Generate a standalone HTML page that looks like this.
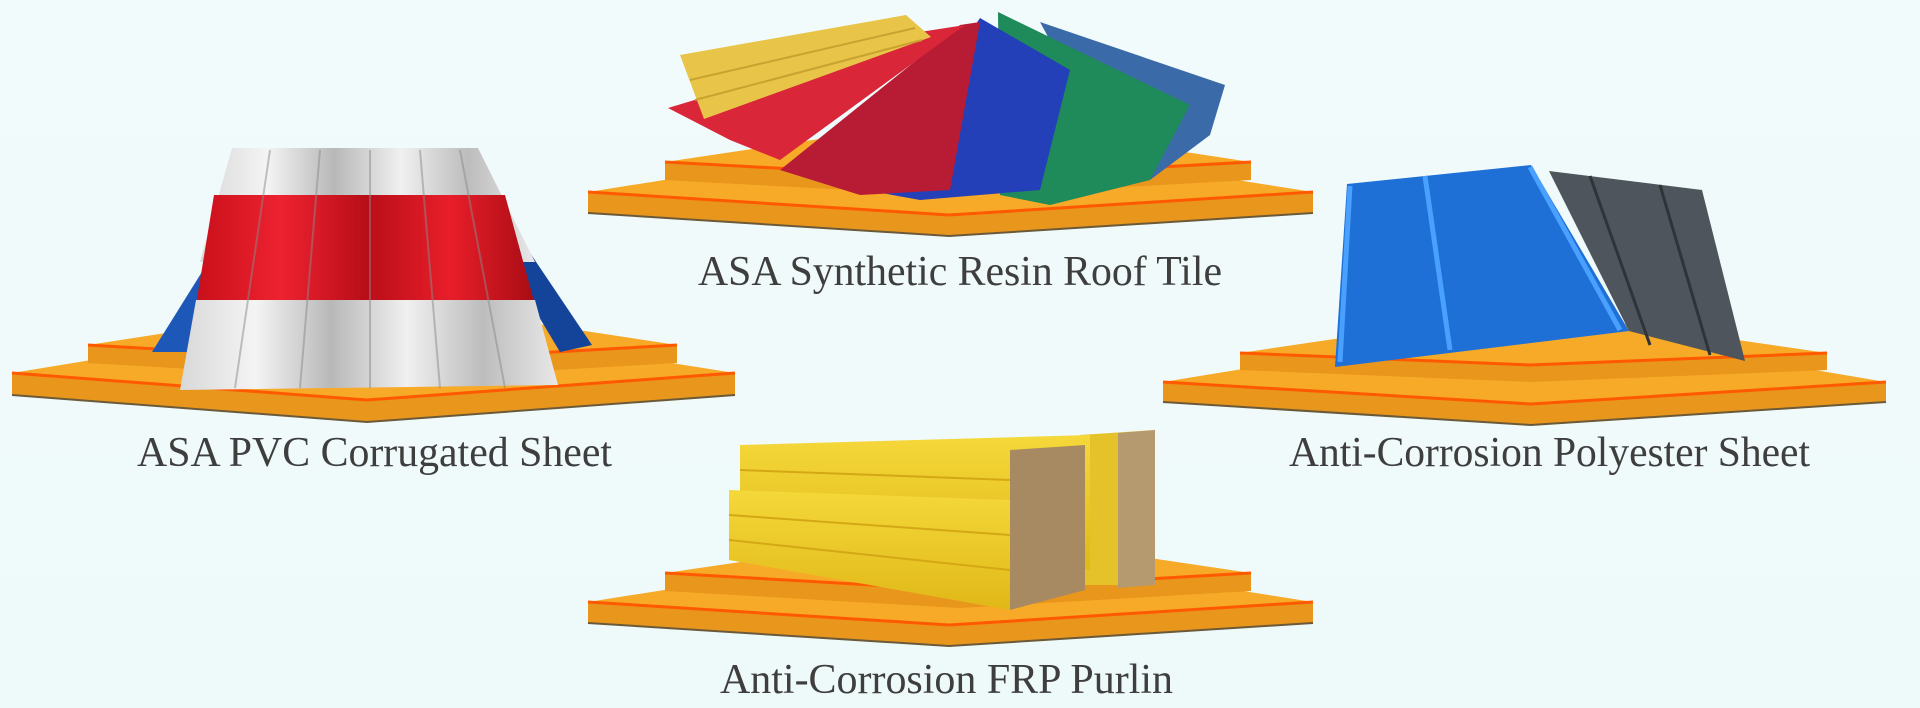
<!DOCTYPE html>
<html><head><meta charset="utf-8"><style>
html,body{margin:0;padding:0;background:#f0fafa;}
svg{display:block}
text{font-family:"Liberation Serif",serif;fill:#3e3e3e;font-size:42px}
</style></head><body>
<svg width="1920" height="708" viewBox="0 0 1920 708" xmlns="http://www.w3.org/2000/svg">
<defs>
<linearGradient id="bg" x1="0" y1="0" x2="0" y2="1"><stop offset="0" stop-color="#f2fbfb"/><stop offset="1" stop-color="#eef9f9"/></linearGradient>
<linearGradient id="wh" x1="0" y1="0" x2="1" y2="0"><stop offset="0" stop-color="#d8d8d8"/><stop offset=".2" stop-color="#f4f4f4"/><stop offset=".4" stop-color="#b8b8b8"/><stop offset=".6" stop-color="#f0f0f0"/><stop offset=".8" stop-color="#bdbdbd"/><stop offset="1" stop-color="#e8e8e8"/></linearGradient>
<linearGradient id="rd" x1="0" y1="0" x2="1" y2="0"><stop offset="0" stop-color="#c8101a"/><stop offset=".25" stop-color="#ee2230"/><stop offset=".5" stop-color="#b80e18"/><stop offset=".75" stop-color="#e81e2a"/><stop offset="1" stop-color="#a80c14"/></linearGradient>
<linearGradient id="yl" x1="0" y1="0" x2="0" y2="1"><stop offset="0" stop-color="#f5d83a"/><stop offset="1" stop-color="#e0b818"/></linearGradient>
</defs>
<rect width="1920" height="708" fill="url(#bg)"/>

<g>
<polygon points="12,373 367,315 735,373 367,400" fill="#f7a928"/>
<polygon points="12,373 367,400 735,373 735,395 367,422 12,395" fill="#e8961c"/>
<polyline points="12,373 367,400 735,373" fill="none" stroke="#ff5a00" stroke-width="3"/>
<polyline points="12,395 367,422 735,395" fill="none" stroke="#6b5a3a" stroke-width="2"/>
<polygon points="88,345 380,300 677,345 380,362" fill="#f7a928"/>
<polygon points="88,345 380,362 677,345 677,363 380,380 88,363" fill="#e8961c"/>
<polyline points="88,345 380,362 677,345" fill="none" stroke="#ff5a00" stroke-width="3"/>
</g>
<polygon points="225,235 258,238 190,352 152,352" fill="#1d58b8"/>
<polygon points="490,235 520,238 592,345 560,352" fill="#14449a"/>
<polygon points="232,148 478,148 535,262 200,262" fill="url(#wh)"/>
<polygon points="214,195 505,195 535,305 196,305" fill="url(#rd)"/>
<polygon points="196,300 535,300 558,385 180,390" fill="url(#wh)"/>
<g stroke="#8a8a8a" stroke-width="2" opacity=".5">
<line x1="270" y1="150" x2="235" y2="388"/><line x1="320" y1="150" x2="300" y2="388"/><line x1="370" y1="150" x2="370" y2="388"/><line x1="420" y1="150" x2="440" y2="388"/><line x1="460" y1="150" x2="505" y2="388"/>
</g>

<g>
<polygon points="588,192 949,135 1313,192 949,215" fill="#f7a928"/>
<polygon points="588,192 949,215 1313,192 1313,213 949,236 588,213" fill="#e8961c"/>
<polyline points="588,192 949,215 1313,192" fill="none" stroke="#ff5a00" stroke-width="3"/>
<polyline points="588,213 949,236 1313,213" fill="none" stroke="#6b5a3a" stroke-width="2"/>
<polygon points="665,162 960,118 1251,162 960,178" fill="#f7a928"/>
<polygon points="665,162 960,178 1251,162 1251,180 960,196 665,180" fill="#e8961c"/>
<polyline points="665,162 960,178 1251,162" fill="none" stroke="#ff5a00" stroke-width="3"/>
</g>
<polygon points="1040,22 1225,85 1210,135 1150,180 1120,170" fill="#3a6aa8"/>
<polygon points="998,12 1190,105 1150,180 1050,205 1000,195" fill="#1f8a5a"/>
<polygon points="980,18 1070,70 1040,190 920,200 865,190" fill="#2440b8"/>
<polygon points="960,25 980,22 950,190 860,195 780,170" fill="#b81c35"/>
<polygon points="668,108 920,32 965,25 780,160 730,140" fill="#d92638"/>
<polygon points="680,55 906,15 931,37 704,119" fill="#e8c448"/>
<g stroke="#c9a230" stroke-width="2"><line x1="690" y1="80" x2="915" y2="28"/><line x1="695" y1="100" x2="922" y2="40"/></g>

<g>
<polygon points="1163,382 1531,322 1886,382 1531,404" fill="#f7a928"/>
<polygon points="1163,382 1531,404 1886,382 1886,402 1531,425 1163,402" fill="#e8961c"/>
<polyline points="1163,382 1531,404 1886,382" fill="none" stroke="#ff5a00" stroke-width="3"/>
<polyline points="1163,402 1531,425 1886,402" fill="none" stroke="#6b5a3a" stroke-width="2"/>
<polygon points="1240,353 1530,310 1827,353 1530,365" fill="#f7a928"/>
<polygon points="1240,353 1530,365 1827,353 1827,370 1530,382 1240,370" fill="#e8961c"/>
<polyline points="1240,353 1530,365 1827,353" fill="none" stroke="#ff5a00" stroke-width="3"/>
</g>
<polygon points="1549,171 1702,190 1745,361 1629,331" fill="#4e555c"/>
<g stroke="#2f3438" stroke-width="3"><line x1="1590" y1="176" x2="1650" y2="345"/><line x1="1660" y1="185" x2="1710" y2="355"/></g>
<polygon points="1347,184 1531,165 1629,331 1335,367" fill="#1e6fd6"/>
<g stroke="#4aa0ff" stroke-width="5"><line x1="1350" y1="186" x2="1340" y2="362"/><line x1="1425" y1="176" x2="1450" y2="350"/><line x1="1530" y1="167" x2="1620" y2="330"/></g>

<g>
<polygon points="588,602 949,545 1313,602 949,625" fill="#f7a928"/>
<polygon points="588,602 949,625 1313,602 1313,623 949,646 588,623" fill="#e8961c"/>
<polyline points="588,602 949,625 1313,602" fill="none" stroke="#ff5a00" stroke-width="3"/>
<polyline points="588,623 949,646 1313,623" fill="none" stroke="#6b5a3a" stroke-width="2"/>
<polygon points="665,573 960,530 1251,573 960,590" fill="#f7a928"/>
<polygon points="665,573 960,590 1251,573 1251,591 960,608 665,591" fill="#e8961c"/>
<polyline points="665,573 960,590 1251,573" fill="none" stroke="#ff5a00" stroke-width="3"/>
</g>
<polygon points="1080,435 1155,430 1155,585 1080,585" fill="#e6c22a"/>
<polygon points="1118,433 1155,430 1155,585 1118,588" fill="#b59a70"/>
<polygon points="740,445 1090,435 1090,570 740,520" fill="url(#yl)"/>
<polygon points="729,490 1010,500 1010,610 729,560" fill="url(#yl)"/>
<polygon points="1010,450 1085,445 1085,590 1010,610" fill="#a88a62"/>
<g stroke="#d4a814" stroke-width="2"><line x1="740" y1="470" x2="1010" y2="480"/><line x1="729" y1="515" x2="1010" y2="535"/><line x1="729" y1="540" x2="1010" y2="570"/></g>

<text x="137" y="466" textLength="475" lengthAdjust="spacingAndGlyphs">ASA PVC Corrugated Sheet</text>
<text x="698" y="285" textLength="524" lengthAdjust="spacingAndGlyphs">ASA Synthetic Resin Roof Tile</text>
<text x="1289" y="466" textLength="521" lengthAdjust="spacingAndGlyphs">Anti-Corrosion Polyester Sheet</text>
<text x="720" y="693" textLength="453" lengthAdjust="spacingAndGlyphs">Anti-Corrosion FRP Purlin</text>
</svg>
</body></html>
